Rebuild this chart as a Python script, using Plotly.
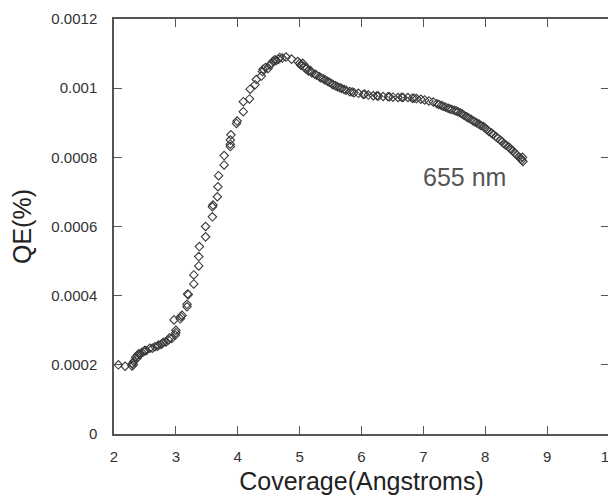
import plotly.graph_objects as go

# Coverage (Angstroms) and QE (%) – main run
cov_a = [2.07, 2.18, 2.29, 2.30, 2.31, 2.37, 2.38, 2.40, 2.48, 2.50, 2.58, 2.66, 2.72, 2.78, 2.80,
         2.88, 2.90, 2.99, 3.00, 3.00, 2.97, 3.07, 3.08, 3.18, 3.18, 3.19, 3.29, 3.29, 3.37, 3.37,
         3.38, 3.48, 3.48, 3.59, 3.59, 3.60, 3.67, 3.68, 3.69, 3.78, 3.78, 3.88, 3.88, 3.88, 3.89,
         3.98, 3.99, 4.09, 4.09, 4.19, 4.20, 4.28, 4.30, 4.38, 4.40, 4.41, 4.49, 4.52, 4.57, 4.60,
         4.68, 4.78, 4.87, 4.97, 5.00, 5.03, 5.07, 5.10, 5.14, 5.20, 5.27, 5.34, 5.41, 5.48, 5.54,
         5.61, 5.68, 5.75, 5.81, 5.88, 5.95, 6.03, 6.11, 6.19, 6.27, 6.35, 6.43, 6.51, 6.59, 6.67,
         6.75, 6.82, 6.89, 6.96, 7.02, 7.09, 7.16, 7.22, 7.29, 7.36, 7.43, 7.50, 7.56, 7.63, 7.70,
         7.77, 7.83, 7.90, 7.97, 8.03, 8.10, 8.17, 8.24, 8.30, 8.37, 8.42, 8.48, 8.54, 8.59, 8.60]
qe_a = [0.000200, 0.000196, 0.000197, 0.000204, 0.000200, 0.000219, 0.000228, 0.000232, 0.000238,
        0.000242, 0.000248, 0.000252, 0.000257, 0.000262, 0.000265, 0.000272, 0.000278, 0.000286,
        0.000293, 0.000300, 0.000330, 0.000333, 0.000340, 0.000368, 0.000375, 0.000405, 0.000434,
        0.000460, 0.000486, 0.000513, 0.000542, 0.000570, 0.000600, 0.000628, 0.000657, 0.000662,
        0.000686, 0.000715, 0.000747, 0.000778, 0.000805, 0.000831, 0.000838, 0.000850, 0.000865,
        0.000898, 0.000905, 0.000932, 0.000961, 0.000969, 0.000997, 0.001010, 0.001025, 0.001035,
        0.001048, 0.001055, 0.001057, 0.001067, 0.001078, 0.001082, 0.001089, 0.001090, 0.001084,
        0.001077, 0.001072, 0.001068, 0.001062, 0.001056, 0.001050, 0.001044, 0.001038, 0.001030,
        0.001024, 0.001017, 0.001010, 0.001004, 0.000999, 0.000994, 0.000990, 0.000987, 0.000985,
        0.000982, 0.000980, 0.000978, 0.000977, 0.000976, 0.000975, 0.000974, 0.000973, 0.000973,
        0.000973, 0.000971, 0.000970, 0.000968, 0.000966, 0.000963, 0.000960, 0.000955, 0.000950,
        0.000945, 0.000940, 0.000936, 0.000932, 0.000925, 0.000917, 0.000910, 0.000903, 0.000896,
        0.000889, 0.000880, 0.000870, 0.000860, 0.000850, 0.000840, 0.000831, 0.000822, 0.000812,
        0.000802, 0.000792, 0.000800]

# Second overlapping run
cov_b = [2.32, 2.35, 2.42, 2.45, 2.52, 2.62, 2.70, 2.76, 2.84, 2.93, 3.10, 3.20,
         4.45, 4.55, 4.62, 4.66, 4.72, 5.02, 5.05, 5.12, 5.18, 5.25, 5.32, 5.38, 5.45,
         5.52, 5.58, 5.65, 5.72, 5.85, 6.05, 6.25, 6.45, 6.65, 6.85, 7.25, 7.32, 7.40,
         7.46, 7.53, 7.60, 7.66, 7.73, 7.80, 7.86, 7.93, 8.00, 8.06, 8.13, 8.20, 8.27,
         8.33, 8.40, 8.45, 8.51, 8.57, 8.61]
qe_b = [0.000210, 0.000222, 0.000230, 0.000236, 0.000241, 0.000248, 0.000254, 0.000259,
        0.000266, 0.000276, 0.000343, 0.000403,
        0.001060, 0.001072, 0.001080, 0.001084, 0.001087, 0.001066, 0.001072, 0.001058,
        0.001050, 0.001040, 0.001033, 0.001027, 0.001020, 0.001013, 0.001007, 0.001001,
        0.000996, 0.000989, 0.000983, 0.000978, 0.000975, 0.000974, 0.000971, 0.000953,
        0.000948, 0.000942, 0.000938, 0.000934, 0.000928, 0.000921, 0.000914, 0.000906,
        0.000900, 0.000892, 0.000884, 0.000875, 0.000866, 0.000856, 0.000846, 0.000836,
        0.000826, 0.000818, 0.000807, 0.000797, 0.000788]

x_ticks = [2, 3, 4, 5, 6, 7, 8, 9, 10]
y_ticks = [0, 0.0002, 0.0004, 0.0006, 0.0008, 0.001, 0.0012]
y_tick_text = ["0", "0.0002", "0.0004", "0.0006", "0.0008", "0.001", "0.0012"]

label_text = "655 nm"
label_x, label_y = 7.67, 0.000743

marker = dict(symbol="diamond-open", size=6.5, color="#3a3a3a", line=dict(width=1.1, color="#3a3a3a"))

fig = go.Figure()
fig.add_trace(go.Scatter(x=cov_a, y=qe_a, mode="markers", marker=marker, showlegend=False))
fig.add_trace(go.Scatter(x=cov_b, y=qe_b, mode="markers", marker=marker, showlegend=False))

axis_common = dict(
    showgrid=False, zeroline=False, showline=True, linecolor="#555555", linewidth=1.5,
    ticks="inside", ticklen=8, tickwidth=1.2, tickcolor="#555555", mirror="ticks",
    automargin=False, ticklabeloverflow="allow",
    tickfont=dict(family="Liberation Sans, Arial, sans-serif", size=15, color="#333333"),
)

# page body adds an 8px offset, so the figure is 8px smaller and margins compensate
fig.update_layout(
    width=608, height=490,
    margin=dict(l=106, r=7, t=11, b=64),
    paper_bgcolor="white", plot_bgcolor="white",
    font=dict(family="Liberation Sans, Arial, sans-serif"),
    xaxis=dict(range=[2, 10], tickvals=x_ticks, ticklabelstandoff=8,
               title=dict(text="Coverage(Angstroms)", font=dict(size=25, color="#222222"), standoff=9),
               **axis_common),
    yaxis=dict(range=[0, 0.0012], tickvals=y_ticks, ticktext=y_tick_text, ticklabelstandoff=12,
               title=dict(text="QE(%)", font=dict(size=25, color="#222222"), standoff=15),
               **axis_common),
    annotations=[dict(x=label_x, y=label_y, text=label_text, showarrow=False,
                      font=dict(size=25, color="#555555"))],
)

fig.write_html("out.html")
